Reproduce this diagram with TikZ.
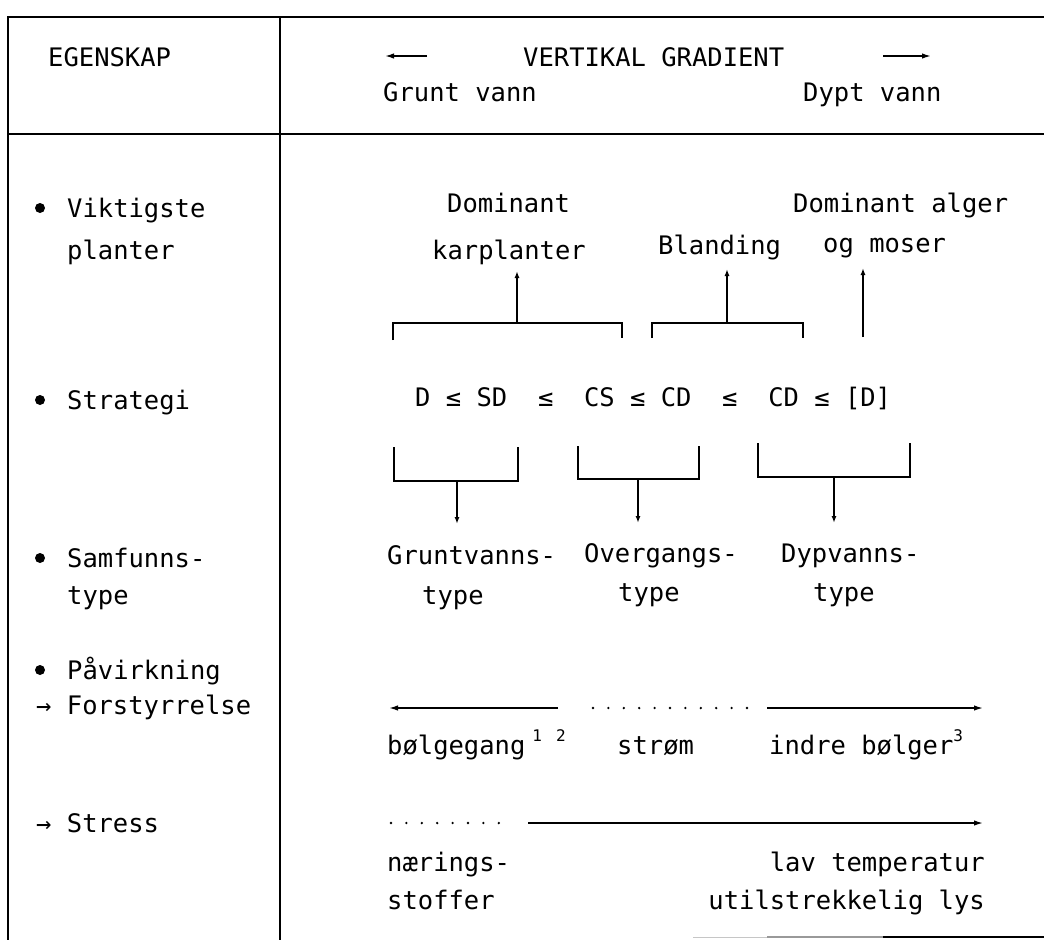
\documentclass[tikz,border=0pt]{standalone}
\usepackage{fontspec}
\setmainfont{DejaVu Sans Mono}
\usetikzlibrary{arrows.meta}
\newcommand\upnum[1]{\raisebox{0.5em}{\fontsize{16}{16}\selectfont #1}}
\begin{document}
\begin{tikzpicture}[x=1pt,y=-1pt,
  font=\fontsize{25.5}{30}\selectfont,
  txt/.style={anchor=base west, inner sep=0pt},
  txtr/.style={anchor=base east, inner sep=0pt},
  frame/.style={line width=1.8pt},
  conn/.style={line width=1.6pt},
  uarr/.style={line width=1.4pt,-{Latex[length=7pt,width=5pt]}},
  harr/.style={line width=1.5pt,-{Latex[length=9pt,width=5.5pt]}},
  bullet/.style={circle, fill, inner sep=0pt, minimum size=10pt},
  dots/.style={line width=2.6pt, line cap=round, dash pattern=on 0pt off 15.4pt}]
\useasboundingbox (0,0) rectangle (1044,940);

% frame
\draw[frame] (1044,17) -- (8,17) -- (8,940);
\draw[frame] (280,17) -- (280,940);
\draw[frame] (8,134) -- (1044,134);
\draw[gray!45, line width=1pt] (693,937) -- (767,937);
\draw[gray!80, line width=1.4pt] (767,937) -- (883,937);
\draw[line width=1.7pt] (883,937) -- (1044,937);

% header
\node[txt] (egen) at (48,66) {EGENSKAP};
\node[txt] (vert) at (523,66) {VERTIKAL GRADIENT};
\node[txt] (grunt) at (383,101) {Grunt vann};
\node[txt] (dypt) at (803,101) {Dypt vann};
\coordinate (hl1) at (427,56); \coordinate (hl2) at (385,56);
\coordinate (hr1) at (883,56); \coordinate (hr2) at (931,56);
\draw[harr] (hl1) -- (hl2);
\draw[harr] (hr1) -- (hr2);

% left column
\node[bullet] (b1) at (40,208) {};
\node[txt] (vik) at (67,217) {Viktigste};
\node[txt] (pla) at (67,259) {planter};
\node[bullet] (b2) at (40,400) {};
\node[txt] (str) at (67,409) {Strategi};
\node[bullet] (b3) at (40,558) {};
\node[txt] (sam) at (67,567) {Samfunns-};
\node[txt] (typ) at (67,604) {type};
\node[bullet] (b4) at (40,670) {};
\node[txt] (pav) at (67,679) {Påvirkning};
\node[txt] (for) at (36,714) {→ Forstyrrelse};
\node[txt] (stre) at (36,832) {→ Stress};

% plants row
\node[txt] (dom1) at (447,212) {Dominant};
\node[txt] (karp) at (432,259) {karplanter};
\node[txt] (bland) at (658,254) {Blanding};
\node[txt] (dom2) at (793,212) {Dominant alger};
\node[txt] (mos) at (823,252) {og moser};

% upper brackets
\draw[conn] (393,340) -- (393,323) -- (622,323) -- (622,338);
\draw[conn] (652,338) -- (652,323) -- (803,323) -- (803,338);
\coordinate (u1a) at (517,323); \coordinate (u1b) at (517,271);
\coordinate (u2a) at (727,323); \coordinate (u2b) at (727,269);
\coordinate (u3a) at (863,337); \coordinate (u3b) at (863,268);
\draw[uarr] (u1a) -- (u1b);
\draw[uarr] (u2a) -- (u2b);
\draw[uarr] (u3a) -- (u3b);

% strategy
\node[txt] (strat) at (415,406) {D~≤~SD~~≤~~CS~≤~CD~~≤~~CD~≤~[D]};

% lower brackets
\draw[conn] (394,447) -- (394,481) -- (518,481) -- (518,447);
\draw[conn] (578,446) -- (578,479) -- (699,479) -- (699,446);
\draw[conn] (758,443) -- (758,477) -- (910,477) -- (910,443);
\coordinate (d1a) at (457,481); \coordinate (d1b) at (457,524);
\coordinate (d2a) at (638,479); \coordinate (d2b) at (638,523);
\coordinate (d3a) at (834,477); \coordinate (d3b) at (834,523);
\draw[uarr] (d1a) -- (d1b);
\draw[uarr] (d2a) -- (d2b);
\draw[uarr] (d3a) -- (d3b);

% community types
\node[txt] (gv) at (387,564) {Gruntvanns-};
\node[txt] (gvt) at (422,604) {type};
\node[txt] (ov) at (584,562) {Overgangs-};
\node[txt] (ovt) at (618,601) {type};
\node[txt] (dv) at (781,562) {Dypvanns-};
\node[txt] (dvt) at (813,601) {type};

% disturbance
\coordinate (fa1) at (558,708); \coordinate (fa2) at (389,708);
\coordinate (fd1) at (593,708); \coordinate (fd2) at (748,708);
\coordinate (fb1) at (767,708); \coordinate (fb2) at (983,708);
\draw[harr] (fa1) -- (fa2);
\draw[dots] (fd1) -- (fd2);
\draw[harr] (fb1) -- (fb2);
\node[txt] (bol) at (387,754) {bølgegang\hspace{7pt}\upnum{1}\hspace{14pt}\upnum{2}};
\node[txt] (strom) at (617,754) {strøm};
\node[txt] (indre) at (769,754) {indre bølger\upnum{3}};

% stress
\coordinate (sd1) at (391,823); \coordinate (sd2) at (500,823);
\coordinate (sa1) at (528,823); \coordinate (sa2) at (983,823);
\draw[dots] (sd1) -- (sd2);
\draw[harr] (sa1) -- (sa2);
\node[txt] (naer) at (387,871) {nærings-};
\node[txt] (stof) at (387,909) {stoffer};
\node[txtr] (lav) at (985,871) {lav temperatur};
\node[txtr] (lys) at (985,909) {utilstrekkelig lys};
\end{tikzpicture}
\end{document}
